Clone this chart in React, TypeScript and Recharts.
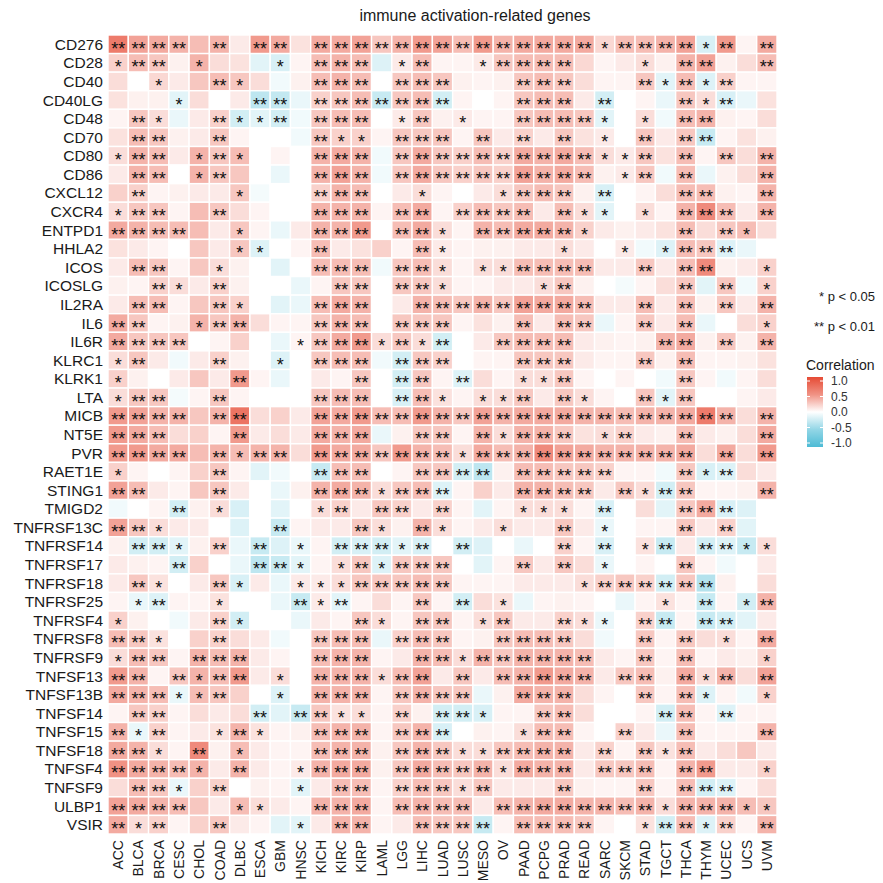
import React from "react";
import { ScatterChart, Scatter, XAxis, YAxis } from "recharts";

const cancers = ["ACC","BLCA","BRCA","CESC","CHOL","COAD","DLBC","ESCA","GBM","HNSC","KICH","KIRC","KIRP","LAML","LGG","LIHC","LUAD","LUSC","MESO","OV","PAAD","PCPG","PRAD","READ","SARC","SKCM","STAD","TGCT","THCA","THYM","UCEC","UCS","UVM"];

const genes = ["CD276","CD28","CD40","CD40LG","CD48","CD70","CD80","CD86","CXCL12","CXCR4","ENTPD1","HHLA2","ICOS","ICOSLG","IL2RA","IL6","IL6R","KLRC1","KLRK1","LTA","MICB","NT5E","PVR","RAET1E","STING1","TMIGD2","TNFRSF13C","TNFRSF14","TNFRSF17","TNFRSF18","TNFRSF25","TNFRSF4","TNFRSF8","TNFRSF9","TNFSF13","TNFSF13B","TNFSF14","TNFSF15","TNFSF18","TNFSF4","TNFSF9","ULBP1","VSIR"];

// correlation values per gene (33 cancers each), significance: 0 none, 1 "*", 2 "**"
const r_CD276 = [0.65,0.4,0.35,0.3,0.25,0.3,0.05,0.45,0.35,0.08,0.35, 0.35,0.4,0.2,0.3,0.45,0.4,0.25,0.45,0.3,0.35,0.35, 0.35,0.35,0.12,0.25,0.25,0.3,0.4,-0.12,0.45,0.02,0.35];
const p_CD276 = "22220202202" + "22222222222" + "22122221202";
const r_CD28 = [0.15,0.25,0.2,0.03,0.3,0.1,0.08,-0.08,-0.12,0.02,0.25, 0.3,0.25,-0.1,0.05,0.25,0.02,0.02,0.05,0.2,0.25,0.25, 0.25,0.12,0.02,0.05,0.1,0.03,0.3,0.4,0.03,0.1,0.25];
const p_CD28 = "12201000102" + "22012001222" + "20001022002";
const r_CD40 = [0.1,0.0,0.12,0.05,0.2,0.25,0.2,0.1,-0.03,0.03,0.25, 0.3,0.25,0.0,0.2,0.25,0.2,0.03,0.02,0.03,0.2,0.25, 0.2,0.1,0.02,0.02,0.2,-0.08,0.25,-0.1,0.15,0.02,0.02];
const p_CD40 = "00100210002" + "22022200022" + "20002121200";
const r_CD40LG = [0.08,0.03,0.03,-0.08,0.1,0.0,0.05,-0.25,-0.22,-0.05,0.15, 0.2,0.25,-0.2,0.2,0.25,-0.15,0.02,0.0,0.02,0.2,0.25, 0.25,0.05,-0.15,0.0,0.02,-0.05,0.2,0.1,-0.12,-0.05,0.08];
const p_CD40LG = "00010002202" + "22222200022" + "20200021200";
const r_CD48 = [0.02,0.2,0.1,-0.05,0.05,0.15,-0.15,-0.08,-0.15,-0.03,0.2, 0.25,0.25,0.0,0.05,0.2,0.03,0.05,0.02,0.02,0.2,0.25, 0.25,0.2,-0.08,0.0,0.1,-0.03,0.25,0.3,0.03,0.02,0.1];
const p_CD48 = "02100211202" + "22012010022" + "22101022000";
const r_CD70 = [0.08,0.25,0.2,0.03,0.05,0.2,0.02,0.0,0.0,-0.03,0.2, 0.15,0.15,0.02,0.2,0.2,0.2,0.02,0.2,0.05,0.15,0.05, 0.2,0.08,0.05,0.0,0.2,0.05,0.2,-0.2,0.02,0.08,0.03];
const p_CD70 = "02200200002" + "11022202020" + "20102022000";
const r_CD80 = [0.1,0.3,0.25,0.05,0.3,0.2,0.25,0.0,0.02,0.0,0.3, 0.35,0.3,-0.03,0.2,0.35,0.2,0.15,0.25,0.15,0.35,0.3, 0.35,0.25,0.1,0.05,0.2,0.08,0.25,0.02,0.2,0.1,0.3];
const p_CD80 = "12201210002" + "22022222222" + "22112020202";
const r_CD86 = [0.05,0.3,0.25,0.0,0.3,0.2,0.2,0.0,-0.05,0.0,0.3, 0.4,0.3,-0.03,0.2,0.35,0.2,0.15,0.2,0.15,0.4,0.3, 0.35,0.25,0.03,0.05,0.2,-0.03,0.25,-0.05,0.03,0.1,0.3];
const p_CD86 = "02201200002" + "22022222222" + "22012020002";
const r_CXCL12 = [0.15,0.15,0.02,0.03,0.05,0.05,0.2,-0.02,0.0,0.0,0.15, 0.3,0.25,0.0,0.05,0.1,0.02,0.0,0.05,0.1,0.2,0.25, 0.2,0.03,-0.12,0.0,0.02,0.1,0.25,0.25,0.03,0.02,0.3];
const p_CXCL12 = "02000010002" + "22001000122" + "20200022002";
const r_CXCR4 = [0.1,0.2,0.2,0.02,0.25,0.2,0.1,0.02,0.0,0.0,0.3, 0.3,0.3,0.02,0.25,0.35,0.02,0.15,0.25,0.2,0.25,0.05, 0.25,0.1,-0.08,0.0,0.1,0.02,0.3,0.55,0.25,0.05,0.3];
const p_CXCR4 = "12200200002" + "22022022220" + "21101022202";
const r_ENTPD1 = [0.35,0.3,0.25,0.25,0.25,0.05,0.2,0.02,-0.05,0.05,0.3, 0.3,0.45,0.0,0.25,0.35,0.1,0.02,0.3,0.25,0.35,0.35, 0.3,0.15,0.05,0.03,0.05,0.08,0.25,0.1,0.2,0.25,0.1];
const p_ENTPD1 = "22220010002" + "22022102222" + "21000020210";
const r_HHLA2 = [0.08,0.05,0.02,0.0,0.2,0.05,0.2,-0.1,0.0,0.02,0.25, 0.05,0.08,0.15,0.02,0.25,0.05,0.02,0.03,0.03,0.05,0.05, 0.1,0.05,0.0,0.05,-0.03,-0.1,0.25,0.2,-0.1,-0.05,0.0];
const p_HHLA2 = "00000011002" + "00002100000" + "10010122200";
const r_ICOS = [0.05,0.25,0.2,0.02,0.2,0.1,0.03,0.0,-0.08,0.0,0.25, 0.25,0.25,-0.03,0.2,0.25,0.1,0.02,0.1,0.1,0.25,0.25, 0.25,0.25,0.05,0.05,0.2,0.05,0.25,0.55,0.03,0.05,0.15];
const p_ICOS = "02200100002" + "22022101122" + "22002022001";
const r_ICOSLG = [0.03,0.02,0.15,0.1,0.05,0.15,0.03,0.0,0.0,-0.05,0.02, 0.2,0.2,0.0,0.2,0.2,0.1,0.02,0.02,0.05,0.05,0.1, 0.2,0.03,0.0,-0.02,0.02,0.1,0.2,-0.08,0.2,-0.03,0.15];
const p_ICOSLG = "00210200000" + "22022100001" + "20000020201";
const r_IL2RA = [0.05,0.25,0.25,0.02,0.2,0.2,0.15,0.0,-0.08,-0.05,0.25, 0.35,0.3,0.0,0.05,0.3,0.25,0.2,0.3,0.2,0.4,0.35, 0.35,0.25,0.05,0.05,0.25,0.05,0.25,0.03,0.2,0.05,0.3];
const p_IL2RA = "02200210002" + "22002222222" + "22002020202";
const r_IL6 = [0.35,0.2,0.02,0.03,0.3,0.2,0.3,0.1,0.02,0.02,0.2, 0.3,0.25,0.0,0.2,0.2,0.2,0.02,0.08,0.03,0.25,0.05, 0.25,0.2,-0.05,0.02,0.2,0.05,0.25,-0.05,0.0,0.1,0.15];
const p_IL6 = "22001220002" + "22022200020" + "22002020001";
const r_IL6R = [0.35,0.2,0.2,0.2,0.0,0.02,0.15,0.0,-0.05,0.02,0.2, 0.35,0.45,0.1,0.2,0.1,-0.15,0.0,0.05,0.2,0.25,0.25, 0.25,0.05,0.03,0.02,0.03,0.3,0.35,0.03,0.2,0.03,0.3];
const p_IL6R = "22220000012" + "22121200222" + "20000220202";
const r_KLRC1 = [0.1,0.2,0.05,-0.03,0.05,0.15,0.03,0.0,-0.1,0.0,0.2, 0.25,0.25,-0.03,-0.15,0.2,0.15,0.0,0.02,0.02,0.2,0.2, 0.2,0.05,0.02,0.02,0.2,0.03,0.25,0.02,0.02,0.03,0.08];
const p_KLRC1 = "12000200102" + "22022200022" + "20002020000";
const r_KLRK1 = [0.15,0.03,0.0,0.05,0.2,0.05,0.45,0.02,-0.05,0.0,0.05, 0.02,0.2,0.0,-0.15,0.2,0.02,-0.1,0.1,0.02,0.1,0.1, 0.2,0.02,0.0,0.02,0.0,-0.03,0.2,0.02,-0.03,0.02,0.1];
const p_KLRK1 = "10000020000" + "02022020011" + "20000020000";
const r_LTA = [0.1,0.2,0.2,-0.02,0.02,0.2,0.02,0.0,0.0,0.0,0.2, 0.25,0.25,0.0,-0.12,0.25,0.08,0.02,0.1,0.1,0.2,0.05, 0.2,0.1,0.02,0.0,0.2,-0.08,0.2,0.0,0.0,0.02,0.05];
const p_LTA = "12200200002" + "22022101120" + "21002120000";
const r_MICB = [0.45,0.4,0.3,0.3,0.2,0.3,0.7,0.1,0.15,0.05,0.4, 0.35,0.45,0.25,0.25,0.45,0.3,0.2,0.4,0.3,0.35,0.35, 0.35,0.3,0.3,0.25,0.3,0.3,0.35,0.65,0.3,0.1,0.3];
const p_MICB = "22220220002" + "22222222222" + "22222222202";
const r_NT5E = [0.45,0.35,0.25,0.1,0.15,0.02,0.45,0.05,0.1,0.05,0.35, 0.3,0.35,-0.05,0.03,0.2,0.2,0.02,0.3,0.1,0.3,0.3, 0.2,0.08,0.1,0.15,0.05,0.03,0.25,0.05,0.03,0.1,0.35];
const p_NT5E = "22200020002" + "22002202122" + "20120020002";
const r_PVR = [0.45,0.45,0.35,0.35,0.25,0.3,0.25,0.3,0.3,0.1,0.45, 0.35,0.35,0.2,0.45,0.3,0.25,0.1,0.35,0.25,0.3,0.55, 0.4,0.35,0.3,0.3,0.3,0.3,0.35,0.1,0.35,0.1,0.45];
const p_PVR = "22220212202" + "22222212222" + "22222220202";
const r_RAET1E = [0.15,0.02,0.0,0.02,0.15,0.2,0.02,-0.08,-0.03,0.0,-0.2, 0.25,0.25,0.0,0.02,0.2,0.2,-0.15,-0.25,0.03,0.25,0.25, 0.2,0.2,0.15,0.02,0.02,-0.03,0.2,-0.12,-0.1,0.1,0.05];
const p_RAET1E = "10000200002" + "22002222022" + "22200021200";
const r_STING1 = [0.4,0.25,0.05,0.02,0.2,0.2,0.05,0.0,-0.05,0.03,0.3, 0.35,0.3,0.1,0.2,0.25,-0.1,0.02,0.15,0.05,0.3,0.3, 0.25,0.2,0.05,0.2,0.1,-0.15,0.2,0.02,0.02,0.03,0.3];
const p_STING1 = "22000200002" + "22122200022" + "22021220002";
const r_TMIGD2 = [-0.03,0.0,0.02,-0.15,0.03,0.1,-0.12,0.0,-0.08,0.0,0.1, 0.15,0.05,0.2,0.15,0.05,0.15,0.02,-0.08,0.02,0.1,0.1, 0.1,0.02,-0.12,0.0,0.1,-0.08,0.2,0.35,-0.12,-0.1,0.0];
const p_TMIGD2 = "00020100001" + "20220200011" + "10200022200";
const r_TNFRSF13C = [0.4,0.2,0.1,0.05,0.05,0.0,-0.1,0.0,-0.2,0.02,0.05, 0.05,0.2,0.1,0.03,0.3,0.1,0.02,0.05,0.1,0.05,0.05, 0.2,0.05,-0.05,0.0,0.02,0.02,0.2,0.05,0.15,-0.08,0.0];
const p_TNFRSF13C = "22100000200" + "02102100100" + "20100020200";
const r_TNFRSF14 = [0.03,-0.15,-0.15,-0.08,0.03,0.15,-0.05,-0.2,-0.1,-0.05,0.02, -0.15,-0.12,-0.15,-0.08,-0.12,0.0,-0.15,-0.1,0.0,-0.05,0.0, 0.15,0.02,-0.12,0.0,0.08,-0.2,0.05,-0.15,-0.1,-0.2,0.1];
const p_TNFRSF14 = "02210202010" + "22212020000" + "20201202211";
const r_TNFRSF17 = [0.05,0.03,0.02,-0.15,0.15,0.0,-0.05,-0.25,-0.2,-0.08,0.02, 0.1,0.2,-0.1,0.2,0.2,0.2,0.0,-0.08,0.02,0.2,0.05, 0.2,0.1,-0.05,0.0,0.02,0.0,0.2,0.02,-0.03,0.0,0.05];
const p_TNFRSF17 = "00020002210" + "12122200020" + "20100020000";
const r_TNFRSF18 = [0.05,0.2,0.08,0.0,0.05,0.2,-0.12,0.05,-0.05,0.05,0.05, 0.1,0.2,0.2,0.2,0.25,0.2,0.02,0.02,0.02,0.05,0.05, 0.05,0.1,0.15,0.2,0.15,-0.15,0.2,-0.3,0.03,0.0,0.1];
const p_TNFRSF18 = "02100210011" + "12222200000" + "01222222000";
const r_TNFRSF25 = [0.02,-0.05,-0.1,0.02,0.02,0.08,0.0,0.0,-0.05,-0.2,0.05, -0.08,0.02,0.1,0.02,0.2,0.02,-0.15,0.1,0.08,-0.05,0.02, 0.03,0.02,0.0,-0.05,0.02,0.08,0.02,-0.2,0.02,-0.15,0.3];
const p_TNFRSF25 = "01200100021" + "20002020100" + "00000102012";
const r_TNFRSF4 = [0.15,0.03,0.0,-0.03,0.05,0.15,-0.15,0.0,0.0,-0.05,0.05, 0.02,0.2,0.1,0.02,0.2,0.2,0.02,0.1,0.2,0.05,0.05, 0.15,0.1,-0.05,0.0,0.15,-0.2,0.02,-0.2,-0.15,-0.08,0.05];
const p_TNFRSF4 = "10000210000" + "02102201200" + "21102202200";
const r_TNFRSF8 = [0.25,0.2,0.08,0.0,0.15,0.15,0.1,0.05,-0.03,0.0,0.2, 0.25,0.25,-0.05,0.15,0.25,0.2,0.02,0.03,0.2,0.25,0.25, 0.2,0.1,-0.03,0.0,0.2,0.02,0.2,0.1,0.1,0.02,0.35];
const p_TNFRSF8 = "22100200002" + "22022200222" + "20002020102";
const r_TNFRSF9 = [0.1,0.25,0.2,0.02,0.3,0.25,0.3,0.05,0.02,0.0,0.25, 0.3,0.3,0.02,0.05,0.3,0.25,0.1,0.3,0.2,0.3,0.3, 0.3,0.25,0.05,0.02,0.2,0.02,0.25,0.02,0.05,0.03,0.15];
const p_TNFRSF9 = "12202220002" + "22002212222" + "22002020001";
const r_TNFSF13 = [0.45,0.3,0.02,0.2,0.3,0.25,0.45,0.05,0.1,0.0,0.3, 0.3,0.3,0.1,0.25,0.4,0.05,0.2,0.05,0.25,0.3,0.45, 0.35,0.3,0.05,0.2,0.25,0.03,0.35,0.1,0.3,0.1,0.4];
const p_TNFSF13 = "22021220102" + "22122020222" + "22022021202";
const r_TNFSF13B = [0.35,0.3,0.25,-0.05,0.25,0.2,0.15,0.0,-0.1,0.0,0.3, 0.3,0.3,0.02,0.2,0.3,0.2,0.2,-0.05,0.03,0.35,0.3, 0.3,0.1,0.02,0.0,0.2,0.02,0.25,-0.1,0.02,-0.03,0.15];
const p_TNFSF13B = "22211200102" + "22022220022" + "20002021001";
const r_TNFSF14 = [0.02,0.2,0.15,0.02,0.1,0.05,0.1,-0.15,-0.08,-0.2,0.2, 0.08,0.1,0.02,0.15,0.03,-0.15,-0.15,-0.12,0.02,0.02,0.2, 0.25,0.1,0.0,0.0,0.02,-0.15,0.25,0.02,-0.1,0.02,0.02];
const p_TNFSF14 = "02200002022" + "11020221002" + "20000220200";
const r_TNFSF15 = [0.3,-0.05,0.15,0.02,0.05,0.08,0.3,0.08,0.02,0.03,0.25, 0.3,0.3,0.02,0.2,0.3,-0.12,0.0,0.03,0.02,0.1,0.25, 0.25,0.02,0.0,0.15,0.05,-0.05,0.25,0.02,0.02,0.02,0.3];
const p_TNFSF15 = "21200121002" + "22022200012" + "20020020002";
const r_TNFSF18 = [0.35,0.3,0.1,0.02,0.55,0.03,0.25,0.05,0.02,0.02,0.25, 0.3,0.3,0.03,0.2,0.3,0.2,0.1,0.1,0.2,0.25,0.3, 0.3,0.05,0.15,0.02,0.2,0.08,0.25,0.05,0.1,0.2,0.05];
const p_TNFSF18 = "22102010002" + "22022211222" + "20202120000";
const r_TNFSF4 = [0.5,0.35,0.3,0.25,0.3,0.05,0.3,0.05,0.02,0.05,0.3, 0.35,0.35,0.03,0.2,0.35,0.25,0.2,0.3,0.1,0.35,0.3, 0.3,0.05,0.2,0.2,0.25,0.02,0.3,0.45,0.05,0.05,0.15];
const p_TNFSF4 = "22221020012" + "22022222122" + "20222022001";
const r_TNFSF9 = [0.1,0.25,0.2,-0.05,0.15,0.15,0.0,0.03,0.02,-0.08,0.05, 0.25,0.25,0.02,0.15,0.25,0.2,0.1,0.2,0.05,0.05,0.05, 0.2,0.03,0.02,0.02,0.2,0.02,0.25,-0.15,-0.1,0.02,0.1];
const p_TNFSF9 = "02210200010" + "22022212000" + "20002022200";
const r_ULBP1 = [0.4,0.35,0.3,0.25,0.2,0.05,0.25,0.1,0.05,0.02,0.3, 0.3,0.35,0.02,0.25,0.3,0.25,0.25,0.05,0.25,0.3,0.35, 0.35,0.3,0.3,0.25,0.3,0.1,0.3,0.3,0.3,0.25,0.2];
const p_ULBP1 = "22220011002" + "22022220222" + "22222122211";
const r_VSIR = [0.35,0.1,0.15,0.02,0.15,0.2,0.05,0.02,-0.08,-0.08,0.05, 0.3,0.3,0.02,0.05,0.25,0.2,0.2,-0.2,0.02,0.25,0.25, 0.25,0.2,0.02,0.0,0.08,-0.15,0.25,-0.1,0.15,0.02,0.3];
const p_VSIR = "21200200010" + "22002222022" + "22001221202";

const rowValues = [r_CD276,r_CD28,r_CD40,r_CD40LG,r_CD48,r_CD70,r_CD80,r_CD86,r_CXCL12,r_CXCR4,r_ENTPD1,r_HHLA2,r_ICOS,r_ICOSLG,r_IL2RA,r_IL6,r_IL6R,r_KLRC1,r_KLRK1,r_LTA,r_MICB,r_NT5E,r_PVR,r_RAET1E,r_STING1,r_TMIGD2,r_TNFRSF13C,r_TNFRSF14,r_TNFRSF17,r_TNFRSF18,r_TNFRSF25,r_TNFRSF4,r_TNFRSF8,r_TNFRSF9,r_TNFSF13,r_TNFSF13B,r_TNFSF14,r_TNFSF15,r_TNFSF18,r_TNFSF4,r_TNFSF9,r_ULBP1,r_VSIR];
const rowSig = [p_CD276,p_CD28,p_CD40,p_CD40LG,p_CD48,p_CD70,p_CD80,p_CD86,p_CXCL12,p_CXCR4,p_ENTPD1,p_HHLA2,p_ICOS,p_ICOSLG,p_IL2RA,p_IL6,p_IL6R,p_KLRC1,p_KLRK1,p_LTA,p_MICB,p_NT5E,p_PVR,p_RAET1E,p_STING1,p_TMIGD2,p_TNFRSF13C,p_TNFRSF14,p_TNFRSF17,p_TNFRSF18,p_TNFRSF25,p_TNFRSF4,p_TNFRSF8,p_TNFRSF9,p_TNFSF13,p_TNFSF13B,p_TNFSF14,p_TNFSF15,p_TNFSF18,p_TNFSF4,p_TNFSF9,p_ULBP1,p_VSIR];

const legendTicks = [1.0, 0.5, 0.0, -0.5, -1.0];

const HI = [230, 75, 53];
const LO = [77, 187, 213];
function colorOf(v: number): string {
  const t = Math.pow(Math.min(1, Math.abs(v)), 0.72);
  const c = v >= 0 ? HI : LO;
  const m = (k: number) => Math.round(255 + (c[k] - 255) * t);
  return `rgb(${m(0)},${m(1)},${m(2)})`;
}

const W = 875;
const H = 875;
const MARGIN = { top: 27, right: 106, bottom: 0, left: 0 };
const YW = 100;
const XH = 49;
const PLOT_W = W - MARGIN.left - YW - MARGIN.right;
const PLOT_H = H - MARGIN.top - XH - MARGIN.bottom;
const CW = PLOT_W / cancers.length;
const CH = PLOT_H / genes.length;
const FONT = "'Liberation Sans', Arial, sans-serif";

const data: { x: number; y: number; v: number; s: string }[] = [];
genes.forEach((g, i) => {
  cancers.forEach((c, j) => {
    const k = rowSig[i][j];
    data.push({ x: j, y: i, v: rowValues[i][j], s: k === "2" ? "**" : k === "1" ? "*" : "" });
  });
});

const CellShape = (props: any) => {
  const { cx, cy, payload } = props;
  if (cx == null || cy == null) return null;
  return (
    <g>
      <rect x={cx - CW / 2} y={cy - CH / 2} width={CW} height={CH} fill={colorOf(payload.v)} stroke="#ffffff" strokeWidth={1.4} />
      {payload.s ? (
        <text x={cx} y={cy + 10.5} textAnchor="middle" fontSize={18} fontFamily={FONT} fill="#111">{payload.s}</text>
      ) : null}
    </g>
  );
};

const XTick = (props: any) => {
  const { x, y, payload } = props;
  const yy = y + 4;
  return (
    <text x={x} y={yy} transform={`rotate(-90 ${x} ${yy})`} textAnchor="end" dominantBaseline="central" fontSize={14} fontFamily={FONT} fill="#1a1a1a">
      {cancers[payload.value]}
    </text>
  );
};

const YTick = (props: any) => {
  const { x, y, payload } = props;
  return (
    <text x={x} y={y} textAnchor="end" dominantBaseline="central" fontSize={15.5} fontFamily={FONT} fill="#1a1a1a">
      {genes[payload.value]}
    </text>
  );
};

export default function App() {
  const barX = 799;
  const barTop = 369;
  const barH = 70;
  const tickY = (t: number) => barTop + 4 + ((1 - t) / 2) * (barH - 8);
  return (
    <div style={{ position: "relative", width: W, height: H, background: "#fff" }}>
      <ScatterChart width={W} height={H} margin={MARGIN}>
        <XAxis type="number" dataKey="x" domain={[-0.5, cancers.length - 0.5]} ticks={cancers.map((_, i) => i)} interval={0} tick={<XTick />} tickLine={false} axisLine={false} height={XH} tickSize={0} allowDataOverflow />
        <YAxis type="number" dataKey="y" domain={[-0.5, genes.length - 0.5]} ticks={genes.map((_, i) => i)} interval={0} reversed tick={<YTick />} tickLine={false} axisLine={false} width={YW} tickSize={0} tickMargin={5} allowDataOverflow />
        <Scatter data={data} shape={<CellShape />} isAnimationActive={false} />
      </ScatterChart>
      <svg width={W} height={H} style={{ position: "absolute", left: 0, top: 0, pointerEvents: "none" }}>
        <defs>
          <linearGradient id="cbar" x1="0" y1="0" x2="0" y2="1">
            <stop offset="0%" stopColor={colorOf(1)} />
            <stop offset="25%" stopColor={colorOf(0.5)} />
            <stop offset="50%" stopColor={colorOf(0)} />
            <stop offset="75%" stopColor={colorOf(-0.5)} />
            <stop offset="100%" stopColor={colorOf(-1)} />
          </linearGradient>
        </defs>
        <text x={467} y={13} textAnchor="middle" fontSize={16} fontFamily={FONT} fill="#1a1a1a">immune activation-related genes</text>
        <text x={867} y={293} textAnchor="end" fontSize={13} fontFamily={FONT} fill="#1a1a1a">* p &lt; 0.05</text>
        <text x={867} y={323} textAnchor="end" fontSize={13} fontFamily={FONT} fill="#1a1a1a">** p &lt; 0.01</text>
        <text x={798} y={362} fontSize={14} fontFamily={FONT} fill="#1a1a1a">Correlation</text>
        <rect x={barX} y={barTop} width={16} height={barH} fill="url(#cbar)" />
        {legendTicks.map((t) => (
          <g key={t}>
            <line x1={barX} x2={barX + 3} y1={tickY(t)} y2={tickY(t)} stroke="#fff" />
            <line x1={barX + 13} x2={barX + 16} y1={tickY(t)} y2={tickY(t)} stroke="#fff" />
            <text x={barX + 24} y={tickY(t)} dominantBaseline="central" fontSize={12} fontFamily={FONT} fill="#333">{t.toFixed(1)}</text>
          </g>
        ))}
      </svg>
    </div>
  );
}
